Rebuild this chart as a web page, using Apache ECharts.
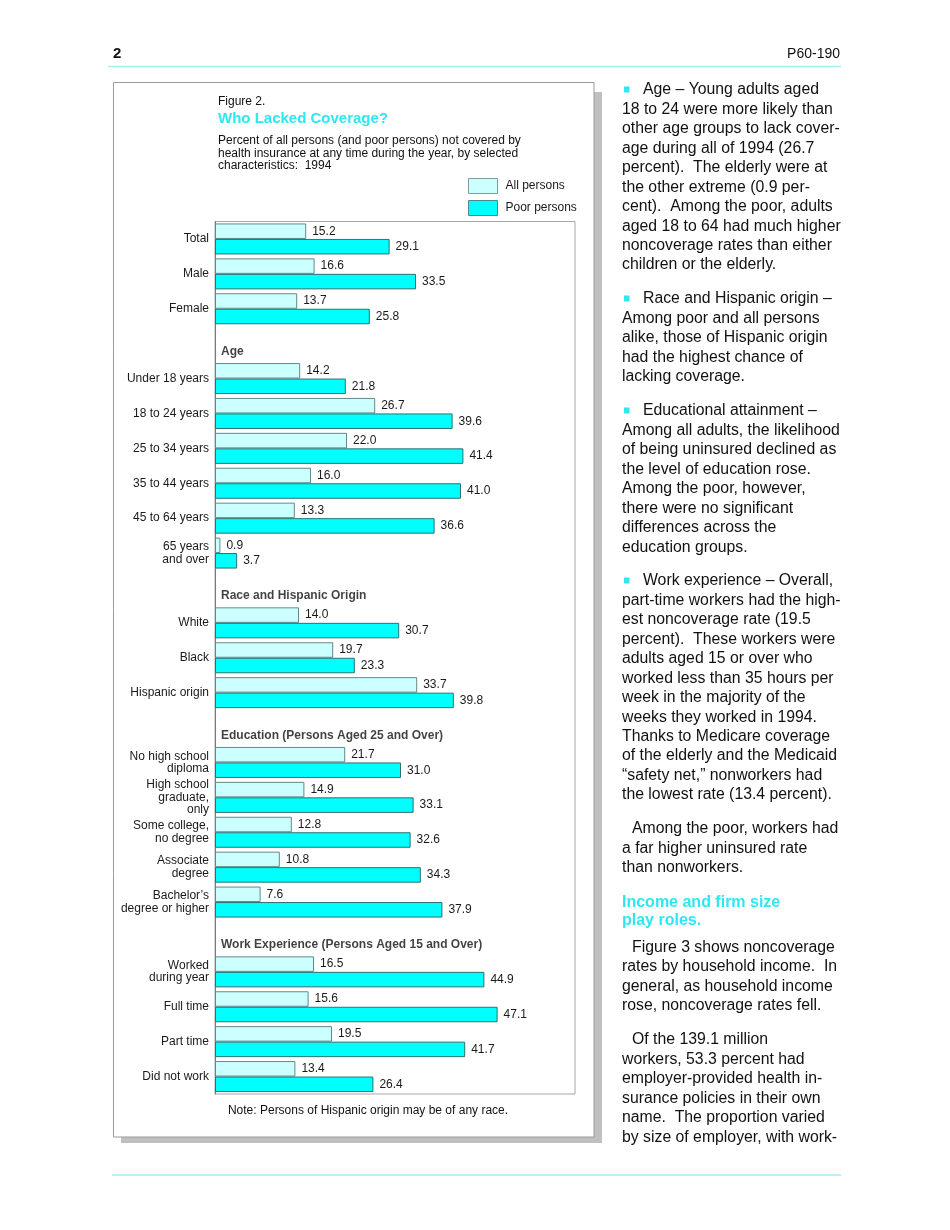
<!DOCTYPE html>
<html><head><meta charset="utf-8">
<script src="https://cdn.jsdelivr.net/npm/echarts@6/dist/echarts.min.js"></script>
<style>html,body{margin:0;padding:0;background:#fff}#c{width:950px;height:1230px}</style>
</head><body><div id="c"></div>
<script>
// ---------- data ----------
const categories = [
  'Total', 'Male', 'Female',
  'Age',
  'Under 18 years', '18 to 24 years', '25 to 34 years', '35 to 44 years', '45 to 64 years', '65 years\nand over',
  'Race and Hispanic Origin',
  'White', 'Black', 'Hispanic origin',
  'Education (Persons Aged 25 and Over)',
  'No high school\ndiploma', 'High school\ngraduate,\nonly', 'Some college,\nno degree', 'Associate\ndegree', 'Bachelor\u2019s\ndegree or higher',
  'Work Experience (Persons Aged 15 and Over)',
  'Worked\nduring year', 'Full time', 'Part time', 'Did not work'
];
const sectionHeaders = ['Age', 'Race and Hispanic Origin', 'Education (Persons Aged 25 and Over)', 'Work Experience (Persons Aged 15 and Over)'];
const allPersons  = [15.2, 16.6, 13.7, null, 14.2, 26.7, 22.0, 16.0, 13.3, 0.9, null, 14.0, 19.7, 33.7, null, 21.7, 14.9, 12.8, 10.8, 7.6, null, 16.5, 15.6, 19.5, 13.4];
const poorPersons = [29.1, 33.5, 25.8, null, 21.8, 39.6, 41.4, 41.0, 36.6, 3.7, null, 30.7, 23.3, 39.8, null, 31.0, 33.1, 32.6, 34.3, 37.9, null, 44.9, 47.1, 41.7, 26.4];
const seriesNames = ['All persons', 'Poor persons'];

const pageNumber = '2';
const reportId = 'P60-190';
const figureLabel = 'Figure 2.';
const figureTitle = 'Who Lacked Coverage?';
const figureSubtitle = ['Percent of all persons (and poor persons) not covered by', 'health insurance at any time during the year, by selected', 'characteristics:  1994'];
const figureNote = 'Note: Persons of Hispanic origin may be of any race.';

const paraAge = ['Age \u2013 Young adults aged', '18 to 24 were more likely than', 'other age groups to lack cover-', 'age during all of 1994 (26.7', 'percent).  The elderly were at', 'the other extreme (0.9 per-', 'cent).  Among the poor, adults', 'aged 18 to 64 had much higher', 'noncoverage rates than either', 'children or the elderly.'];
const paraRace = ['Race and Hispanic origin \u2013', 'Among poor and all persons', 'alike, those of Hispanic origin', 'had the highest chance of', 'lacking coverage.'];
const paraEdu = ['Educational attainment \u2013', 'Among all adults, the likelihood', 'of being uninsured declined as', 'the level of education rose.', 'Among the poor, however,', 'there were no significant', 'differences across the', 'education groups.'];
const paraWork = ['Work experience \u2013 Overall,', 'part-time workers had the high-', 'est noncoverage rate (19.5', 'percent).  These workers were', 'adults aged 15 or over who', 'worked less than 35 hours per', 'week in the majority of the', 'weeks they worked in 1994.', 'Thanks to Medicare coverage', 'of the elderly and the Medicaid', '\u201csafety net,\u201d nonworkers had', 'the lowest rate (13.4 percent).'];
const paraPoor = ['Among the poor, workers had', 'a far higher uninsured rate', 'than nonworkers.'];
const headingIncome = ['Income and firm size', 'play roles.'];
const paraFig3 = ['Figure 3 shows noncoverage', 'rates by household income.  In', 'general, as household income', 'rose, noncoverage rates fell.'];
const paraWorkers = ['Of the 139.1 million', 'workers, 53.3 percent had', 'employer-provided health in-', 'surance policies in their own', 'name.  The proportion varied', 'by size of employer, with work-'];

// ---------- layout / style ----------
const FONT = '"Liberation Sans", Arial, Helvetica, sans-serif';
const CYAN = '#2fe6f2';
const LINE = 19.45;
const LIGHT_FILL = '#ccffff', LIGHT_BORDER = '#5f8a8a';
const DARK_FILL = '#00ffff', DARK_BORDER = '#2d7070';

const graphics = [];
// page header / footer rules
graphics.push({type: 'line', z: -20, shape: {x1: 108, y1: 66.5, x2: 841, y2: 66.5}, style: {stroke: '#a8edf2', lineWidth: 1.5}});
graphics.push({type: 'line', z: -20, shape: {x1: 112, y1: 1175, x2: 841, y2: 1175}, style: {stroke: '#a8edf2', lineWidth: 1.5}});
graphics.push({type: 'text', x: 113, y: 54, style: {text: pageNumber, font: 'bold 15px ' + FONT, fill: '#111', textVerticalAlign: 'middle'}});
graphics.push({type: 'text', x: 840, y: 54, style: {text: reportId, font: '14px ' + FONT, fill: '#111', textAlign: 'right', textVerticalAlign: 'middle'}});
// figure box with shadow
graphics.push({type: 'rect', z: -20, shape: {x: 121, y: 92, width: 481, height: 1051}, style: {fill: '#c0c0c0'}});
graphics.push({type: 'rect', z: -19, shape: {x: 113.5, y: 82.5, width: 480.5, height: 1054.5}, style: {fill: '#ffffff', stroke: '#9a9a9a', lineWidth: 1}});
// figure titles
graphics.push({type: 'text', x: 218, y: 102, style: {text: figureLabel, font: '12px ' + FONT, fill: '#111', textVerticalAlign: 'middle'}});
graphics.push({type: 'text', x: 218, y: 118.5, style: {text: figureTitle, font: 'bold 15px ' + FONT, fill: CYAN, textVerticalAlign: 'middle'}});
figureSubtitle.forEach((t, i) => graphics.push({type: 'text', x: 218, y: 141 + i * 12.2, style: {text: t, font: '12px ' + FONT, fill: '#111', textVerticalAlign: 'middle'}}));
graphics.push({type: 'text', x: 368, y: 1111, style: {text: figureNote, font: '12px ' + FONT, fill: '#111', textAlign: 'center', textVerticalAlign: 'middle'}});

// right column text
const blocks = [
  {lines: paraAge, y: 90, kind: 'bullet'},
  {lines: paraRace, y: 299, kind: 'bullet'},
  {lines: paraEdu, y: 411, kind: 'bullet'},
  {lines: paraWork, y: 581, kind: 'bullet'},
  {lines: paraPoor, y: 829, kind: 'indent'},
  {lines: headingIncome, y: 902.8, kind: 'heading'},
  {lines: paraFig3, y: 947.3, kind: 'indent'},
  {lines: paraWorkers, y: 1040, kind: 'indent'}
];
blocks.forEach(b => {
  b.lines.forEach((t, i) => {
    const isHead = b.kind === 'heading';
    const lh = isHead ? 17.7 : LINE;
    let x = 622;
    if (i === 0 && b.kind === 'bullet') x = 643;
    if (i === 0 && b.kind === 'indent') x = 632;
    graphics.push({type: 'text', x: x, y: b.y + i * lh, style: {
      text: t, font: (isHead ? 'bold 16px ' : '15.8px ') + FONT, fill: isHead ? CYAN : '#111', textVerticalAlign: 'middle'}});
  });
  if (b.kind === 'bullet') {
    graphics.push({type: 'rect', shape: {x: 624, y: b.y - 3.5, width: 5.5, height: 6}, style: {fill: CYAN}});
  }
});

const chart = echarts.init(document.getElementById('c'), null, {renderer: 'canvas'});
chart.setOption({
  animation: false,
  backgroundColor: '#ffffff',
  textStyle: {fontFamily: FONT},
  grid: {left: 215, top: 221.5, width: 360, height: 872.5, show: true, borderColor: '#a8a8a8', borderWidth: 1, backgroundColor: 'transparent'},
  xAxis: {type: 'value', min: 0, max: 60, show: false},
  yAxis: {
    type: 'category', data: categories, inverse: true,
    axisTick: {show: false},
    axisLine: {lineStyle: {color: '#7a7a7a', width: 1}},
    splitLine: {show: false},
    axisLabel: {fontSize: 12, color: '#1a1a1a', margin: 6, lineHeight: 12.4, interval: 0,
      formatter: v => sectionHeaders.includes(v) ? '' : v}
  },
  legend: {
    orient: 'vertical', left: 468, top: 178, padding: 0, itemWidth: 29, itemHeight: 15, itemGap: 6,
    selectedMode: false,
    textStyle: {fontSize: 12, color: '#1a1a1a', padding: [0, 0, 0, 3]},
    data: [
      {name: seriesNames[0], icon: 'rect', itemStyle: {color: LIGHT_FILL, borderColor: '#7a9c9c', borderWidth: 1}},
      {name: seriesNames[1], icon: 'rect', itemStyle: {color: DARK_FILL, borderColor: '#4a8a8a', borderWidth: 1}}
    ]
  },
  series: [
    {name: seriesNames[0], type: 'bar', data: allPersons, barWidth: 15.5, barGap: '0%',
      itemStyle: {color: LIGHT_FILL, borderColor: LIGHT_BORDER, borderWidth: 1},
      label: {show: true, position: 'right', distance: 6, fontSize: 12, color: '#1a1a1a',
        formatter: p => p.value == null ? '' : Number(p.value).toFixed(1)}},
    {name: seriesNames[1], type: 'bar', data: poorPersons, barWidth: 15.5, barGap: '0%',
      itemStyle: {color: DARK_FILL, borderColor: DARK_BORDER, borderWidth: 1},
      label: {show: true, position: 'right', distance: 6, fontSize: 12, color: '#1a1a1a',
        formatter: p => p.value == null ? '' : Number(p.value).toFixed(1)}},
    {name: 'sections', type: 'scatter', silent: true, symbolSize: 0,
      data: sectionHeaders.map(h => ({name: h, value: [0, h]})),
      label: {show: true, position: 'right', distance: 6, offset: [0, 8], formatter: '{b}',
        fontWeight: 'bold', fontSize: 12, color: '#111'}}
  ],
  graphic: graphics
});
</script>
</body></html>
